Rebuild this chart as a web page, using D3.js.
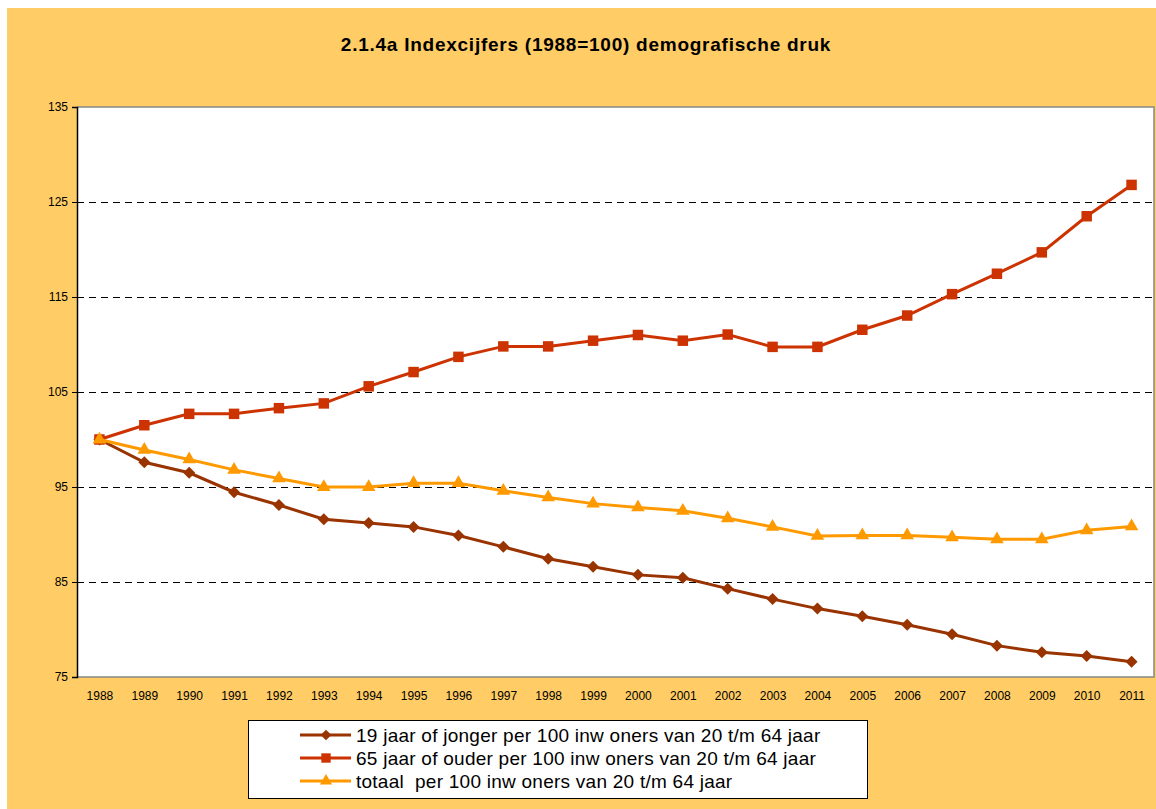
<!DOCTYPE html>
<html><head><meta charset="utf-8">
<script src="https://cdn.jsdelivr.net/npm/d3@7"></script>
<style>body{margin:0;background:#fff}svg{display:block}</style>
</head><body>
<svg id="c" width="1156" height="809"></svg>
<script>
const years = ["1988","1989","1990","1991","1992","1993","1994","1995","1996","1997","1998","1999","2000","2001","2002","2003","2004","2005","2006","2007","2008","2009","2010","2011"];
const jonger = [100,97.6,96.5,94.45,93.1,91.6,91.2,90.8,89.9,88.7,87.45,86.6,85.75,85.45,84.3,83.2,82.2,81.4,80.5,79.5,78.3,77.6,77.2,76.6];
const ouder = [100,101.5,102.7,102.7,103.3,103.8,105.6,107.1,108.7,109.8,109.8,110.4,111.0,110.4,111.05,109.75,109.75,111.55,113.05,115.3,117.45,119.7,123.5,126.8];
const totaal = [100,98.9,97.9,96.8,95.9,95.0,95.0,95.4,95.4,94.6,93.9,93.25,92.85,92.5,91.7,90.8,89.85,89.9,89.9,89.7,89.5,89.5,90.45,90.85];
const yTicks = [75,85,95,105,115,125,135];
const title = "2.1.4a Indexcijfers (1988=100) demografische druk";
const legendLabels = ["19 jaar of jonger per 100 inw oners van 20 t/m 64 jaar","65 jaar of ouder per 100 inw oners van 20 t/m 64 jaar","totaal  per 100 inw oners van 20 t/m 64 jaar"];

const series = [
  {name: legendLabels[0], values: jonger, color: "#993300", sym: d3.symbolSquare, size: 72, rot: 45},
  {name: legendLabels[1], values: ouder, color: "#CC3300", sym: d3.symbolSquare, size: 110, rot: 0},
  {name: legendLabels[2], values: totaal, color: "#FF9900", sym: d3.symbolTriangle, size: 80, rot: 0}
];

const svg = d3.select("#c");
const font = "'Liberation Sans', Arial, sans-serif";
svg.append("rect").attr("x",7).attr("y",8).attr("width",1156).attr("height",809).attr("fill","#FFCC66");

svg.append("text").attr("x",586).attr("y",51).attr("text-anchor","middle")
  .attr("font-family",font).attr("font-weight","bold").attr("font-size",19)
  .attr("letter-spacing",0.75).attr("fill","#000").text(title);

const L=77, R=1154, T=107, B=677;
const x = d3.scalePoint().domain(years).range([L,R]).padding(0.5);
const y = d3.scaleLinear().domain([75,135]).range([B,T]);

svg.append("rect").attr("x",L).attr("y",T).attr("width",R-L).attr("height",B-T).attr("fill","#fff");

// grid
svg.append("g").selectAll("line").data(yTicks.filter(v=>v>75 && v<135)).join("line")
  .attr("x1",L).attr("x2",R).attr("y1",d=>Math.round(y(d))+0.5).attr("y2",d=>Math.round(y(d))+0.5)
  .attr("stroke","#000").attr("stroke-width",1).attr("stroke-dasharray","7,5");

// border
svg.append("path").attr("d",`M${L},${T}H${R}V${B}H${L}`).attr("fill","none").attr("stroke","#888").attr("stroke-width",1.5);

// y axis
const ya = svg.append("g").attr("transform",`translate(${L},0)`)
  .call(d3.axisLeft(y).tickValues(yTicks).tickSize(5).tickFormat(d3.format("d")));
ya.select(".domain").attr("stroke","#000").attr("stroke-width",1.5);
ya.selectAll(".tick line").attr("stroke","#000");
ya.selectAll("text").attr("font-family",font).attr("font-size",12).attr("fill","#000").attr("x",-9);

// x axis labels
const xa = svg.append("g").attr("transform",`translate(0,${B})`)
  .call(d3.axisBottom(x).tickSize(0));
xa.select(".domain").remove();
xa.selectAll("text").attr("font-family",font).attr("font-size",12).attr("fill","#000").attr("dy",0).attr("y",23);

const line = d3.line().x((d,i)=>x(years[i])).y(d=>y(d));
series.forEach(s=>{
  svg.append("path").datum(s.values).attr("d",line).attr("fill","none").attr("stroke",s.color).attr("stroke-width",3);
  svg.append("g").selectAll("path").data(s.values).join("path")
    .attr("transform",(d,i)=>`translate(${x(years[i])},${y(d)}) rotate(${s.rot})`)
    .attr("d",d3.symbol().type(s.sym).size(s.size)).attr("fill",s.color);
});

// legend
svg.append("rect").attr("x",248.5).attr("y",720.5).attr("width",619).attr("height",78).attr("fill","#fff").attr("stroke","#000").attr("stroke-width",1);
series.forEach((s,i)=>{
  const yy = 735 + i*23;
  svg.append("line").attr("x1",300).attr("x2",351).attr("y1",yy).attr("y2",yy).attr("stroke",s.color).attr("stroke-width",3);
  svg.append("path").attr("transform",`translate(326,${yy}) rotate(${s.rot})`).attr("d",d3.symbol().type(s.sym).size(s.size*0.8)).attr("fill",s.color);
  svg.append("text").attr("x",356).attr("y",yy+7).attr("font-family",font).attr("font-size",19)
    .attr("letter-spacing",0.25).style("white-space","pre").attr("fill","#000").text(s.name);
});
</script>
</body></html>
